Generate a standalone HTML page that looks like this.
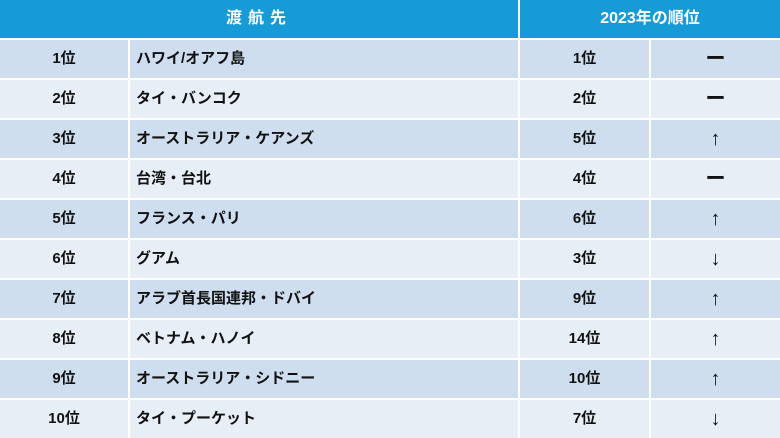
<!DOCTYPE html><html><head><meta charset="utf-8"><style>
body{margin:0;width:780px;height:438px;overflow:hidden;background:#fff;font-family:"Liberation Sans","Noto Sans CJK JP",sans-serif;font-weight:bold;color:#111;position:relative}
.r{position:absolute;left:0;width:780px;height:38px}
.c{position:absolute;top:0;height:38px;line-height:38px;text-align:center;font-size:15px}
.h .c{background:#169bd6;color:#fff;font-size:16px}
.o .c{background:#cfdeee}.e .c{background:#e8eef6}
.a{left:0;width:128px}.b{left:130px;width:388px;text-align:left!important;padding-left:6px;box-sizing:border-box}.d{left:520px;width:129px}.f{left:651px;width:129px;font-size:20px!important;font-weight:normal}
</style></head><body>
<div class="r h" style="top:0"><div class="c" style="left:0;width:518px;letter-spacing:6px">渡航先</div><div class="c" style="left:520px;width:260px">2023年の順位</div></div>
<div class="r o" style="top:40px"><div class="c a">1位</div><div class="c b">ハワイ/オアフ島</div><div class="c d">1位</div><div class="c f" style="font-weight:bold">ー</div></div>
<div class="r e" style="top:80px"><div class="c a">2位</div><div class="c b">タイ・バンコク</div><div class="c d">2位</div><div class="c f" style="font-weight:bold">ー</div></div>
<div class="r o" style="top:120px"><div class="c a">3位</div><div class="c b">オーストラリア・ケアンズ</div><div class="c d">5位</div><div class="c f">↑</div></div>
<div class="r e" style="top:160px"><div class="c a">4位</div><div class="c b">台湾・台北</div><div class="c d">4位</div><div class="c f" style="font-weight:bold">ー</div></div>
<div class="r o" style="top:200px"><div class="c a">5位</div><div class="c b">フランス・パリ</div><div class="c d">6位</div><div class="c f">↑</div></div>
<div class="r e" style="top:240px"><div class="c a">6位</div><div class="c b">グアム</div><div class="c d">3位</div><div class="c f">↓</div></div>
<div class="r o" style="top:280px"><div class="c a">7位</div><div class="c b">アラブ首長国連邦・ドバイ</div><div class="c d">9位</div><div class="c f">↑</div></div>
<div class="r e" style="top:320px"><div class="c a">8位</div><div class="c b">ベトナム・ハノイ</div><div class="c d">14位</div><div class="c f">↑</div></div>
<div class="r o" style="top:360px"><div class="c a">9位</div><div class="c b">オーストラリア・シドニー</div><div class="c d">10位</div><div class="c f">↑</div></div>
<div class="r e" style="top:400px"><div class="c a">10位</div><div class="c b">タイ・プーケット</div><div class="c d">7位</div><div class="c f">↓</div></div>
</body></html>
